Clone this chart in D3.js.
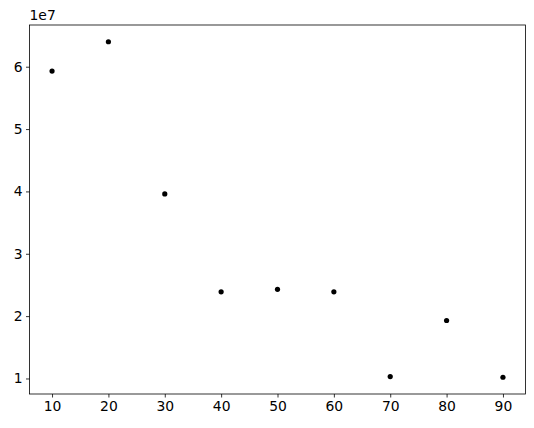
<!DOCTYPE html>
<html>
<head>
<meta charset="utf-8">
<script src="https://cdn.jsdelivr.net/npm/d3@7"></script>
<style>
  body { margin: 0; background: #fff; }
  text { font-family: "DejaVu Sans", sans-serif; }
</style>
</head>
<body>
<div id="chart"></div>
<script>
// data (y values in units of 1e7)
var xValues = [10, 20, 30, 40, 50, 60, 70, 80, 90];
var yValues = [5.93, 6.40, 3.96, 2.39, 2.43, 2.39, 1.03, 1.93, 1.02];
var xTicks = [10, 20, 30, 40, 50, 60, 70, 80, 90];
var yTicks = [1, 2, 3, 4, 5, 6];
var offsetLabel = '1e7';

var width = 534, height = 428,
    plotLeft = 29.5, plotRight = 525.5, plotTop = 25, plotBottom = 394;

var svg = d3.select('#chart')
    .append('svg')
    .attr('width', width)
    .attr('height', height);

// matplotlib-like 5% margins
var xMin = d3.min(xValues), xMax = d3.max(xValues),
    yMin = d3.min(yValues), yMax = d3.max(yValues);
var xPad = (xMax - xMin) * 0.05, yPad = (yMax - yMin) * 0.05;

var x = d3.scaleLinear()
    .domain([xMin - xPad, xMax + xPad])
    .range([plotLeft, plotRight]);

var y = d3.scaleLinear()
    .domain([yMin - yPad, yMax + yPad])
    .range([plotBottom, plotTop]);

// x axis
var xAxis = svg.append('g')
    .attr('transform', 'translate(0,' + plotBottom + ')')
    .call(d3.axisBottom(x).tickValues(xTicks).tickFormat(d3.format('d'))
        .tickSize(3.5).tickPadding(3.5).tickSizeOuter(0));

// y axis
var yAxis = svg.append('g')
    .attr('transform', 'translate(' + plotLeft + ',0)')
    .call(d3.axisLeft(y).tickValues(yTicks).tickFormat(d3.format('d'))
        .tickSize(3.5).tickPadding(3.5).tickSizeOuter(0));

[xAxis, yAxis].forEach(function(g){
    g.select('.domain').remove();
    g.selectAll('line').attr('stroke', '#000').attr('stroke-width', 0.8);
    g.selectAll('text')
        .attr('fill', '#000')
        .style('font-size', '13.9px')
        .style('font-family', '"DejaVu Sans", sans-serif');
});

// frame
svg.append('rect')
    .attr('x', plotLeft)
    .attr('y', plotTop)
    .attr('width', plotRight - plotLeft)
    .attr('height', plotBottom - plotTop)
    .attr('fill', 'none')
    .attr('stroke', '#000')
    .attr('stroke-width', 0.8);

// offset text
svg.append('text')
    .attr('x', plotLeft)
    .attr('y', plotTop - 5)
    .attr('fill', '#000')
    .style('font-size', '13.9px')
    .text(offsetLabel);

// points
svg.append('g')
    .selectAll('circle')
    .data(xValues)
    .join('circle')
    .attr('cx', function(d){ return x(d); })
    .attr('cy', function(d, i){ return y(yValues[i]); })
    .attr('r', 2.6)
    .attr('fill', '#000');
</script>
</body>
</html>
